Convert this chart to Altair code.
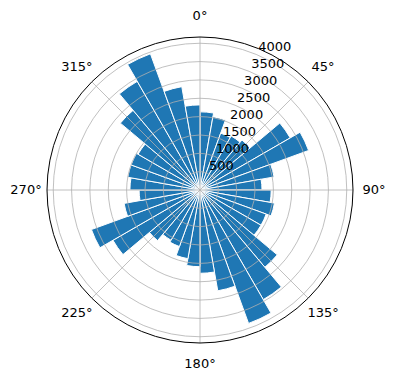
import math
import altair as alt
import pandas as pd

# Wind-rose style polar bar data (clockwise from north, 10-degree bins)
bin_start = list(range(0, 360, 10))
counts = [2130, 2030, 1650, 1700, 1780, 2840, 3150, 2050, 1690, 1940,
          2060, 1920, 1920, 2750, 3450, 3870, 2790, 2270, 2090, 1900,
          1640, 1580, 1800, 2740, 3150, 2100, 1660, 1910, 2000, 2000,
          1950, 2835, 3420, 3950, 2860, 2320]
r_ticks = [500, 1000, 1500, 2000, 2500, 3000, 3500, 4000]
r_tick_labels = ["500", "1000", "1500", "2000", "2500", "3000", "3500", "4000"]
theta_ticks = [0, 45, 90, 135, 180, 225, 270, 315]
theta_tick_labels = ["0°", "45°", "90°", "135°", "180°", "225°", "270°", "315°"]

CX, CY, R = 200, 190, 153
RMAX = 4170
FONT = "DejaVu Sans"

theta_scale = alt.Scale(domain=[0, 360], range=[0, 2 * math.pi])
r_scale = alt.Scale(type="linear", domain=[0, RMAX], range=[0, R], zero=True)

bars_df = pd.DataFrame({"start": bin_start, "count": counts})
bars = alt.Chart(bars_df).transform_calculate(end="datum.start + 10").mark_arc(
    x=CX, y=CY, fill="#1f77b4", stroke="white", strokeWidth=1
).encode(
    theta=alt.Theta("start:Q", scale=theta_scale, stack=None),
    theta2="end:Q",
    radius=alt.Radius("count:Q", scale=r_scale, stack=None),
)

grid_df = pd.DataFrame({"r": r_ticks, "label": r_tick_labels})
grid = alt.Chart(grid_df).mark_arc(
    x=CX, y=CY, filled=False, stroke="#b0b0b0", strokeWidth=0.8
).encode(
    theta=alt.value(0),
    theta2=alt.value(2 * math.pi),
    radius=alt.Radius("r:Q", scale=r_scale, stack=None),
)

ang_df = pd.DataFrame({"deg": theta_ticks, "label": theta_tick_labels})
spokes = alt.Chart(ang_df).transform_calculate(
    cx=str(CX), cy=str(CY),
    ex=f"{CX} + {R} * sin(datum.deg * PI / 180)",
    ey=f"{CY} - {R} * cos(datum.deg * PI / 180)",
).mark_rule(stroke="#b0b0b0", strokeWidth=0.8).encode(
    x=alt.X("cx:Q", scale=None),
    y=alt.Y("cy:Q", scale=None),
    x2="ex:Q",
    y2="ey:Q",
)

outer = alt.Chart(pd.DataFrame({"k": [0]})).mark_arc(
    x=CX, y=CY, filled=False, stroke="black", strokeWidth=1
).encode(
    theta=alt.value(0),
    theta2=alt.value(2 * math.pi),
    radius=alt.value(R),
)

theta_labels = alt.Chart(ang_df).mark_text(
    x=CX, y=CY, font=FONT, fontSize=13, color="black", align="center", baseline="middle"
).encode(
    theta=alt.Theta("deg:Q", scale=theta_scale, stack=None),
    radius=alt.value(174),
    text="label:N",
)

r_labels = alt.Chart(grid_df).mark_text(
    x=CX, y=CY, font=FONT, fontSize=13, color="black", align="left", baseline="bottom", dx=2
).encode(
    theta=alt.value(22.5 * math.pi / 180),
    radius=alt.Radius("r:Q", scale=r_scale, stack=None),
    text="label:N",
)

chart = alt.layer(bars, grid, spokes, outer, theta_labels, r_labels).properties(
    width=396, height=380, autosize=alt.AutoSizeParams(type="none"), padding=0
).configure_view(stroke=None)

chart.save("out.html", embed_options={"renderer": "svg", "actions": False})
